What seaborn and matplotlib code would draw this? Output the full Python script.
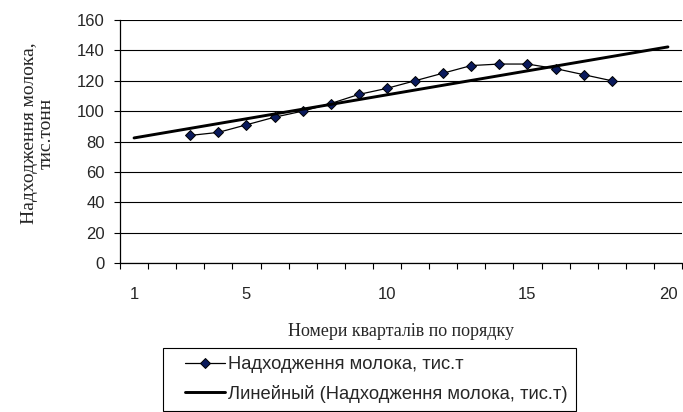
import numpy as np
import pandas as pd
import matplotlib
matplotlib.use("Agg")
import matplotlib.pyplot as plt
import matplotlib.ticker as mticker
from matplotlib.legend_handler import HandlerLine2D
import seaborn as sns

# quarter numbers and milk supply (thousand tonnes)
quarters = list(range(3, 19))
milk = [84, 86, 91, 96, 100, 105, 111, 115, 120, 125, 130, 131, 131, 128, 124, 120]
trend_quarters = list(range(1, 21))
y_ticks = [0, 20, 40, 60, 80, 100, 120, 140, 160]
x_tick_labels = [1, 5, 10, 15, 20]

series_label = "Надходження молока, тис.т"
trend_label = "Линейный (Надходження молока, тис.т)"

sns.set_style("white")
plt.rcParams["font.family"] = ["Liberation Sans", "DejaVu Sans"]

df = pd.DataFrame({"quarter": quarters, "milk": milk})
# linear trend, extended forward/backward like Excel's trendline
slope, intercept = np.polyfit(quarters, milk, 1)
trend_df = pd.DataFrame({"quarter": trend_quarters})
trend_df["milk"] = slope * trend_df["quarter"] + intercept

fig = plt.figure(figsize=(6.83, 4.12), dpi=100)
ax = fig.add_axes([120 / 683, 149 / 412, 562 / 683, 243 / 412])

for y in y_ticks:
    ax.axhline(y, color="black", lw=0.8, zorder=0)

sns.lineplot(data=df, x="quarter", y="milk", ax=ax, color="black", lw=0.9,
             marker="D", markersize=4.6, markerfacecolor="#0a1a5c",
             markeredgecolor="black", markeredgewidth=0.7, label=series_label)
sns.lineplot(data=trend_df, x="quarter", y="milk", ax=ax, color="black", lw=2.1,
             label=trend_label)

ax.set_xlim(0.5, 20.5)
ax.set_ylim(0, 160)
ax.set_yticks(y_ticks)
ax.set_xticks(x_tick_labels)
ax.xaxis.set_minor_locator(mticker.FixedLocator(np.arange(0.5, 21, 1)))
ax.tick_params(axis="x", which="major", length=0, pad=17, labelsize=12)
ax.tick_params(axis="x", which="minor", length=4, width=0.8, direction="out", color="black")
ax.tick_params(axis="y", length=4, width=0.8, direction="out", color="black", pad=7, labelsize=12)
ax.xaxis.set_ticks_position("bottom")
ax.yaxis.set_ticks_position("left")

sns.despine(ax=ax)
for side in ["left", "bottom"]:
    ax.spines[side].set_color("black")
    ax.spines[side].set_linewidth(0.9)

ax.set_xlabel("Номери кварталів по порядку", family="Liberation Serif", fontsize=13)
ax.xaxis.set_label_coords(0.5, -0.245)
ax.set_ylabel("Надходження молока,\nтис.тонн", family="Liberation Serif", fontsize=14,
              linespacing=0.95)
ax.yaxis.set_label_coords(-0.117, 0.535)

ax.get_legend().remove()
handles, labels = ax.get_legend_handles_labels()
# Excel leaves a gap before the legend keys
key_pad = {h: HandlerLine2D(xpad=0.75) for h in handles}
leg = fig.legend(handles, labels, loc="upper left", bbox_to_anchor=(163 / 683, 1 - 348 / 412),
                 borderaxespad=0, frameon=True, fancybox=False, edgecolor="black",
                 framealpha=1, fontsize=13.2, handlelength=2.95, handletextpad=0.15,
                 borderpad=0.45, labelspacing=0.62, handler_map=key_pad)
leg.get_frame().set_linewidth(0.8)

fig.savefig("out.png", dpi=100)
